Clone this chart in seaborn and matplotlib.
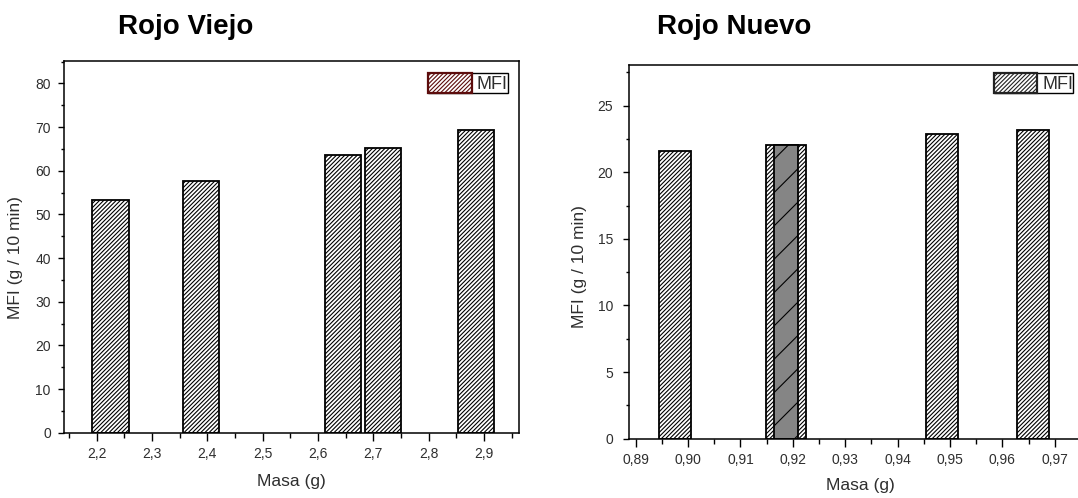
import numpy as np
import matplotlib
matplotlib.use("Agg")
import matplotlib.pyplot as plt
import seaborn as sns
from matplotlib.patches import Patch
from matplotlib.ticker import FixedLocator, FixedFormatter, MultipleLocator

# ---- Rojo Viejo ----
viejo_masa = [2.225, 2.388, 2.645, 2.717, 2.885]
viejo_mfi = [53.4, 57.6, 63.6, 65.1, 69.3]
viejo_xticks = [2.2, 2.3, 2.4, 2.5, 2.6, 2.7, 2.8, 2.9]
viejo_xticklabels = ["2,2", "2,3", "2,4", "2,5", "2,6", "2,7", "2,8", "2,9"]
viejo_yticks = [0, 10, 20, 30, 40, 50, 60, 70, 80]

# ---- Rojo Nuevo ----
nuevo_masa = [0.8975, 0.9187, 0.9485, 0.9659]
nuevo_mfi = [21.6, 22.05, 22.85, 23.2]
nuevo_doble = 1  # sample drawn as a superposed double bar
nuevo_xticks = [0.89, 0.90, 0.91, 0.92, 0.93, 0.94, 0.95, 0.96, 0.97]
nuevo_xticklabels = ["0,89", "0,90", "0,91", "0,92", "0,93", "0,94", "0,95", "0,96", "0,97"]
nuevo_yticks = [0, 5, 10, 15, 20, 25]

sns.set_theme(style="ticks")
plt.rcParams["font.family"] = ["Liberation Sans", "DejaVu Sans"]
plt.rcParams["hatch.linewidth"] = 0.8

TEXT_GRAY = "#2e2e2e"
HATCH = "////////"


def bars(ax, x, y, bar_width, **kw):
    """Bars on a numeric x scale with an absolute width in data units."""
    x = np.asarray(x, dtype=float)
    ux = np.unique(x)
    unit = np.diff(ux).min() if len(ux) > 1 else 1.0
    sns.barplot(x=x, y=y, native_scale=True, orient="x", width=bar_width / unit,
                errorbar=None, saturation=1, ax=ax, **kw)


def style_axes(ax, xlim, ylim, xticks, xticklabels, xminor, yticks, yminor, ypad):
    ax.set_xlim(*xlim)
    ax.set_ylim(*ylim)
    ax.xaxis.set_major_locator(FixedLocator(xticks))
    ax.xaxis.set_major_formatter(FixedFormatter(xticklabels))
    ax.xaxis.set_minor_locator(MultipleLocator(xminor))
    ax.yaxis.set_major_locator(FixedLocator(yticks))
    ax.yaxis.set_major_formatter(FixedFormatter([str(v) for v in yticks]))
    ax.yaxis.set_minor_locator(MultipleLocator(yminor))
    for s in ax.spines.values():
        s.set_visible(True)
        s.set_color("black")
        s.set_linewidth(1.1)
    ax.tick_params(axis="x", which="major", direction="out", length=6, width=1.0,
                   color="black", labelcolor=TEXT_GRAY, labelsize=10, pad=4)
    ax.tick_params(axis="x", which="minor", direction="out", length=3.5, width=1.0,
                   color="black")
    ax.tick_params(axis="y", which="major", direction="out", length=4.5, width=1.0,
                   color="black", labelcolor=TEXT_GRAY, labelsize=10, pad=ypad)
    ax.tick_params(axis="y", which="minor", direction="out", length=2.5, width=1.0,
                   color="black")
    ax.set_xlabel("Masa (g)", fontsize=12.5, color=TEXT_GRAY)
    ax.set_ylabel("MFI (g / 10 min)", fontsize=12.5, color=TEXT_GRAY)
    ax.set_facecolor("white")


def mfi_legend(ax, anchor, loc, edge):
    handle = Patch(facecolor="white", edgecolor=edge, hatch=HATCH, linewidth=1.6)
    leg = ax.legend(handles=[handle], labels=["MFI"], loc=loc, bbox_to_anchor=anchor,
                    bbox_transform=ax.transAxes, fontsize=13, frameon=True,
                    fancybox=False, framealpha=1, edgecolor="black", borderpad=0.0,
                    handlelength=2.4, handleheight=1.3, handletextpad=0.3,
                    borderaxespad=0.0)
    leg.get_frame().set_linewidth(1.0)
    for t in leg.get_texts():
        t.set_color(TEXT_GRAY)
    return leg


W, H = 1078, 498
fig = plt.figure(figsize=(W / 100, H / 100), dpi=100)
fig.patch.set_facecolor("white")

# ---------------- left panel ----------------
ax1 = fig.add_axes([64 / W, 1 - 432.7 / H, 455 / W, 372 / H])
bars(ax1, viejo_masa, viejo_mfi, 0.0655, color="white", edgecolor="black",
     linewidth=1.3, hatch=HATCH)
style_axes(ax1, (2.141, 2.963), (0, 85.2), viejo_xticks, viejo_xticklabels, 0.05,
           viejo_yticks, 5, ypad=5)
ax1.xaxis.set_label_coords(0.5, -0.112)
ax1.yaxis.set_label_coords(-0.09, 0.47)
mfi_legend(ax1, (0.9758, 0.966), "upper right", "#5c0c0c")

# ---------------- right panel ----------------
ax2 = fig.add_axes([629 / W, 1 - 438.7 / H, 462 / W, 373.7 / H])
simple = [i for i in range(len(nuevo_masa)) if i != nuevo_doble]
bars(ax2, [nuevo_masa[i] for i in simple], [nuevo_mfi[i] for i in simple], 0.0061,
     color="white", edgecolor="black", linewidth=1.3, hatch=HATCH)
bars(ax2, [nuevo_masa[nuevo_doble]], [nuevo_mfi[nuevo_doble]], 0.0075,
     color="white", edgecolor="black", linewidth=1.3, hatch=HATCH)
bars(ax2, [nuevo_masa[nuevo_doble]], [nuevo_mfi[nuevo_doble]], 0.0046,
     color="#858585", edgecolor="black", linewidth=1.3, hatch="/")
style_axes(ax2, (0.88872, 0.97693), (0, 28.05), nuevo_xticks, nuevo_xticklabels, 0.005,
           nuevo_yticks, 2.5, ypad=7)
ax2.xaxis.set_label_coords(0.5, -0.105)
ax2.yaxis.set_label_coords(-0.09, 0.46)
mfi_legend(ax2, ((993.7 - 629) / 462, 0.978), "upper left", "#222222")

# ---------------- titles ----------------
fig.text(186 / W, 1 - 33.5 / H, "Rojo Viejo", ha="center", va="baseline",
         fontsize=20, fontweight="bold", color="black")
fig.text(734 / W, 1 - 33.5 / H, "Rojo Nuevo", ha="center", va="baseline",
         fontsize=20, fontweight="bold", color="black")

fig.savefig("out.png", dpi=100, facecolor="white")
